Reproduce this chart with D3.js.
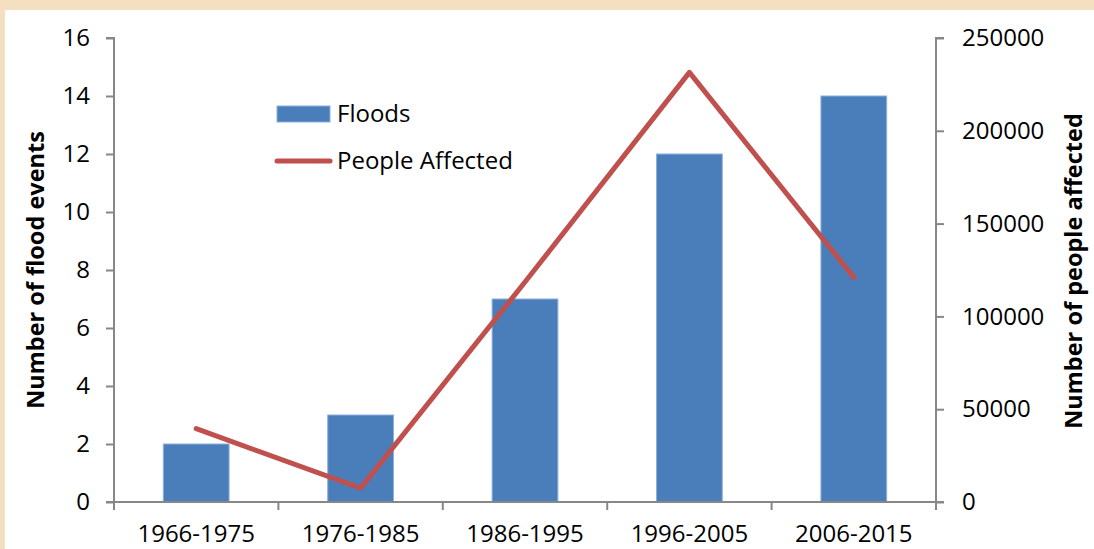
<!DOCTYPE html>
<html><head><meta charset="utf-8">
<script src="https://cdn.jsdelivr.net/npm/d3@7"></script>
<style>
html,body{margin:0;padding:0;background:#f4dfc0;}
svg{display:block;}
</style></head>
<body>
<svg id="chart" width="1094" height="549"></svg>
<script>
const categories = ["1966-1975","1976-1985","1986-1995","1996-2005","2006-2015"];
const floods = [2, 3, 7, 12, 14];
const peopleAffected = [39500, 7500, 118500, 231500, 121000];
const leftTicks = [0,2,4,6,8,10,12,14,16];
const rightTicks = [0,50000,100000,150000,200000,250000];

const svg = d3.select("#chart");
const W = 1094, H = 549;
const font = "'Open Sans', sans-serif";

svg.append("rect").attr("x",0).attr("y",0).attr("width",W).attr("height",H).attr("fill","#f4dfc0");
svg.append("rect").attr("x",5).attr("y",10).attr("width",W-5).attr("height",H-10).attr("fill","#ffffff");

const x0 = 114, x1 = 936, yTop = 38, yBot = 502;
const x = d3.scaleBand().domain(categories).range([x0, x1]).paddingInner(0.6).paddingOuter(0.3);
const xb = d3.scaleBand().domain(categories).range([x0, x1]);
const yL = d3.scaleLinear().domain([0,16]).range([yBot, yTop]);
const yR = d3.scaleLinear().domain([0,250000]).range([yBot, yTop]);

const axisColor = "#878787";

// Bars
svg.append("g").selectAll("rect").data(categories).join("rect")
  .attr("x", d => x(d)).attr("width", x.bandwidth())
  .attr("y", (d,i) => yL(floods[i])).attr("height", (d,i) => yBot - yL(floods[i]))
  .attr("fill", "#4a7ebb").attr("stroke","#8cb0dc").attr("stroke-width",1);

// Left axis
const gL = svg.append("g").attr("transform",`translate(${x0},0)`)
  .call(d3.axisLeft(yL).tickValues(leftTicks).tickSize(8).tickPadding(16));
// Right axis
const gR = svg.append("g").attr("transform",`translate(${x1},0)`)
  .call(d3.axisRight(yR).tickValues(rightTicks).tickSize(8).tickPadding(18).tickFormat(d3.format("d")));
// Bottom axis
const boundaries = categories.map(c => xb(c)).concat([x1]);
const gB = svg.append("g").attr("transform",`translate(0,${yBot})`)
  .call(d3.axisBottom(xb).tickSize(0).tickPadding(23));
gB.selectAll(".tick line").remove();
gB.append("g").selectAll("line").data(boundaries).join("line")
  .attr("x1", d => d).attr("x2", d => d).attr("y1",0).attr("y2",8)
  .attr("stroke", axisColor).attr("stroke-width",2);

[gL,gR,gB].forEach(g => {
  g.select(".domain").attr("stroke", axisColor).attr("stroke-width",2);
  g.selectAll(".tick line").attr("stroke", axisColor).attr("stroke-width",2);
  g.selectAll("text").attr("font-family", font).attr("font-size", 24).attr("fill","#000");
});
gL.select(".domain").attr("d", `M-8,${yTop}H0V${yBot}H-8`);
gR.select(".domain").attr("d", `M8,${yTop}H0V${yBot}H8`);
gB.select(".domain").attr("d", `M${x0},0H${x1}`);

// Line
const line = d3.line().x((d,i) => xb(categories[i]) + xb.bandwidth()/2).y(d => yR(d));
svg.append("path").datum(peopleAffected).attr("d", line)
  .attr("fill","none").attr("stroke","#c0504d").attr("stroke-width",5)
  .attr("stroke-linejoin","round").attr("stroke-linecap","round");

// Axis titles
svg.append("text").attr("transform","translate(44,270) rotate(-90)")
  .attr("text-anchor","middle").attr("font-family",font).attr("font-weight","bold")
  .attr("font-size",23.5).text("Number of flood events");
svg.append("text").attr("transform","translate(1082,271) rotate(-90)")
  .attr("text-anchor","middle").attr("font-family",font).attr("font-weight","bold")
  .attr("font-size",23.5).text("Number of people affected");

// Legend
const lg = svg.append("g");
lg.append("rect").attr("x",277).attr("y",106).attr("width",53).attr("height",16)
  .attr("fill","#4a7ebb").attr("stroke","#8cb0dc").attr("stroke-width",1);
lg.append("text").attr("x",337).attr("y",114).attr("dy","0.35em")
  .attr("font-family",font).attr("font-size",24).text("Floods");
lg.append("line").attr("x1",277).attr("x2",330).attr("y1",161).attr("y2",161)
  .attr("stroke","#c0504d").attr("stroke-width",5).attr("stroke-linecap","round");
lg.append("text").attr("x",337).attr("y",161).attr("dy","0.35em")
  .attr("font-family",font).attr("font-size",24).text("People Affected");
</script>
</body></html>
